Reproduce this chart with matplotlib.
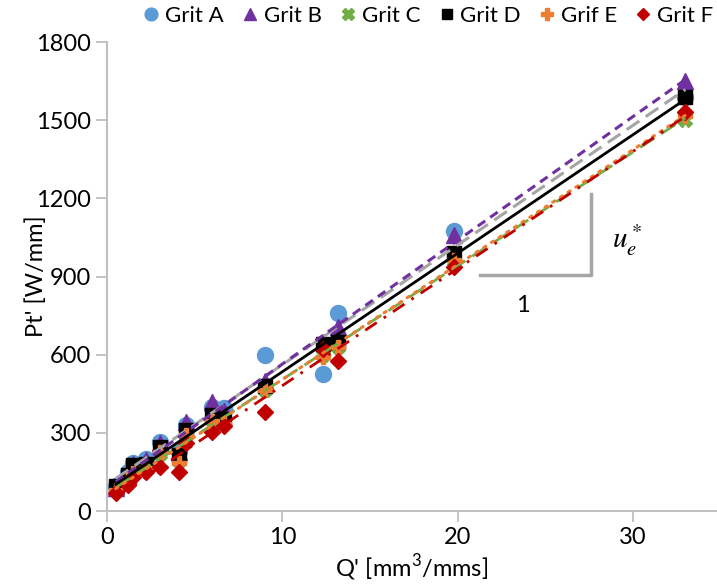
import matplotlib
matplotlib.use('Agg')
import matplotlib.pyplot as plt
import numpy as np
from matplotlib.lines import Line2D

plt.rcParams['font.family'] = ['Lato', 'DejaVu Sans']

# Q' values [mm3/mms] shared by every grit
q = [0.5, 1.2, 1.5, 2.2, 3.0, 4.1, 4.5, 6.0, 6.7, 9.0, 12.3, 13.2, 19.8, 33.0]

grit_a = [95, 150, 185, 200, 265, 230, 330, 400, 395, 600, 525, 760, 1075, 1590]
grit_b = [90, 140, 180, 195, 260, 225, 340, 420, 385, 500, 650, 705, 1060, 1650]
grit_c = [80, 120, 150, 170, 220, 190, 290, 350, 340, 465, 600, 630, 960, 1500]
grit_d = [95, 140, 175, 180, 245, 215, 310, 370, 355, 480, 640, 650, 990, 1590]
grif_e = [80, 115, 145, 165, 225, 185, 290, 345, 335, 465, 590, 630, 965, 1515]
grit_f = [70, 100, 130, 150, 170, 150, 260, 305, 325, 380, 620, 575, 935, 1530]

names = ['Grit A', 'Grit B', 'Grit C', 'Grit D', 'Grif E', 'Grit F']
series = [grit_a, grit_b, grit_c, grit_d, grif_e, grit_f]

# marker style, colour, marker size, trendline style
styles = [
    ('o', '#5B9BD5', 11.5, dict(color='#A5A5A5', ls=(0, (5, 2.5)), lw=2.2)),
    ('^', '#7030A0', 11.5, dict(color='#7030A0', ls=(0, (3, 2)), lw=2.2)),
    ('X', '#70AD47', 10.0, dict(color='#70AD47', ls=(0, (6, 3)), lw=2.0)),
    ('s', '#000000', 9.5, dict(color='#000000', ls='-', lw=2.0)),
    ('P', '#ED7D31', 10.0, dict(color='#ED7D31', ls=(0, (0.8, 2.2)), lw=2.2,
                               dash_capstyle='round')),
    ('D', '#C00000', 8.0, dict(color='#C00000', ls=(0, (5, 3, 1, 3)), lw=2.0)),
]

fig = plt.figure(figsize=(7.17, 5.84), dpi=100)
ax = fig.add_axes([0.1492, 0.125, 0.8508, 0.803])

xs = np.array(q)
handles = []
for name, ys, (mk, col, ms, lstyle) in zip(names, series, styles):
    ax.plot(xs, ys, ls='none', marker=mk, color=col, ms=ms, mec=col, zorder=3)
    # linear trendline over the data range
    k, b = np.polyfit(xs, ys, 1)
    xl = np.array([xs.min(), xs.max()])
    ax.plot(xl, k * xl + b, zorder=4, **lstyle)
    handles.append(Line2D([], [], ls='none', marker=mk, color=col, mec=col,
                          ms=ms * 0.8, label=name))

# slope triangle
gray = '#A6A6A6'
ax.plot([21.3, 27.6, 27.6], [904, 904, 1215], color=gray, lw=2.5, zorder=2)
ax.text(23.7, 790, '1', fontsize=17, ha='center', va='center')
ax.text(29.7, 1040, r'$u_e^*$', fontsize=21, ha='center', va='center',
        math_fontfamily='stix')

ax.set_xlim(0, 34.8)
ax.set_ylim(0, 1800)
ax.set_xticks([0, 10, 20, 30])
ax.set_yticks(np.arange(0, 1801, 300))
for s in ['top', 'right']:
    ax.spines[s].set_visible(False)
for s in ['left', 'bottom']:
    ax.spines[s].set_color('#BFBFBF')
    ax.spines[s].set_linewidth(1.5)
ax.tick_params(colors='#BFBFBF', labelcolor='black', labelsize=17,
               length=8, width=1.3, direction='out')

ax.set_xlabel("Q' [mm$^{\\mathregular{3}}$/mms]", fontsize=17, labelpad=3)
ax.set_ylabel("Pt' [W/mm]", fontsize=17, labelpad=-8)

ax.legend(handles=handles, loc='lower left', bbox_to_anchor=(0.062, 1.035),
          ncol=6, frameon=False, fontsize=16, handlelength=0.6,
          handletextpad=0.3, columnspacing=0.9, borderaxespad=0,
          borderpad=0)

fig.savefig('out.png', dpi=100)
